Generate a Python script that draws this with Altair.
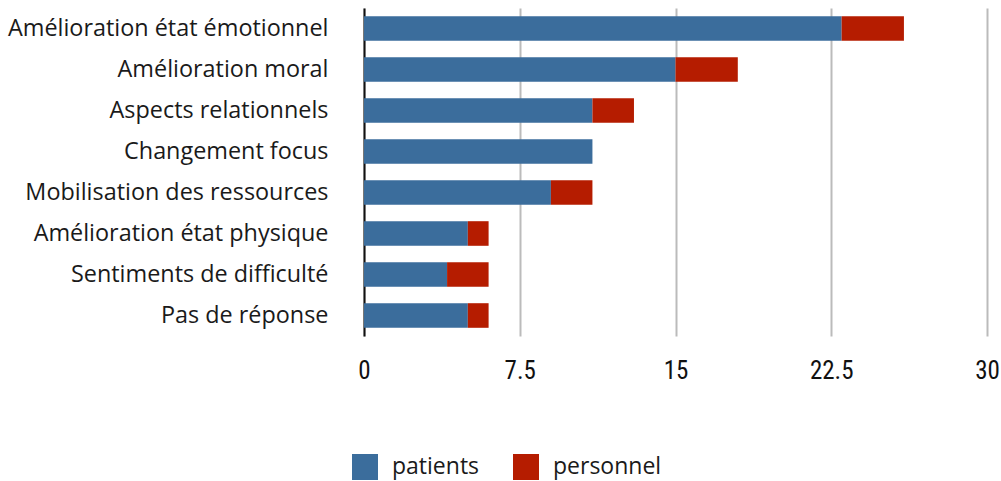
import altair as alt
import pandas as pd

categories = [
    "Amélioration état émotionnel",
    "Amélioration moral",
    "Aspects relationnels",
    "Changement focus",
    "Mobilisation des ressources",
    "Amélioration état physique",
    "Sentiments de difficulté",
    "Pas de réponse",
]
patients = [23, 15, 11, 11, 9, 5, 4, 5]
personnel = [3, 3, 2, 0, 2, 1, 2, 1]
series = ["patients", "personnel"]
colors = ["#3b6d9c", "#b51c00"]
x_ticks = [0, 7.5, 15, 22.5, 30]

rows = []
for i, c in enumerate(categories):
    rows.append({"cat": c, "serie": "patients", "val": patients[i], "ord": 0})
    rows.append({"cat": c, "serie": "personnel", "val": personnel[i], "ord": 1})
df = pd.DataFrame(rows)

chart = alt.Chart(df).mark_bar().encode(
    y=alt.Y("cat:N", sort=categories, title=None,
            scale=alt.Scale(paddingInner=0.4, paddingOuter=0.2),
            axis=alt.Axis(domain=True, domainColor="#111", domainWidth=2, ticks=False,
                          labelFont="Open Sans", labelFontSize=23.4, labelColor="#1a1a1a",
                          labelPadding=36, grid=False, labelLimit=400)),
    x=alt.X("val:Q", stack="zero", title=None,
            scale=alt.Scale(domain=[0, 30], nice=False),
            axis=alt.Axis(values=x_ticks, domain=False, ticks=False, grid=True,
                          gridColor="#bbbbbb", gridWidth=2,
                          labelExpr="'' + datum.value",
                          labelFont="Liberation Sans Narrow, Roboto Condensed, Liberation Sans",
                          labelFontSize=25, labelColor="#111", labelPadding=22,
                          labelFlush=False)),
    color=alt.Color("serie:N", sort=series,
                    scale=alt.Scale(domain=series, range=colors),
                    legend=alt.Legend(title=None, orient="none", direction="horizontal",
                                      legendX=-12, legendY=446,
                                      symbolType="square", symbolSize=676,
                                      symbolStrokeWidth=0, symbolOpacity=1,
                                      labelFont="Open Sans", labelFontSize=23,
                                      labelColor="#1a1a1a", labelOffset=14,
                                      columnPadding=33)),
    order=alt.Order("ord:Q"),
).properties(
    width=623, height=328,
    autosize=alt.AutoSizeParams(type="none"),
    padding={"left": 364, "top": 8, "right": 14, "bottom": 145},
).configure_view(stroke=None)

chart.save("out.html", embed_options={"renderer": "svg", "actions": False})
